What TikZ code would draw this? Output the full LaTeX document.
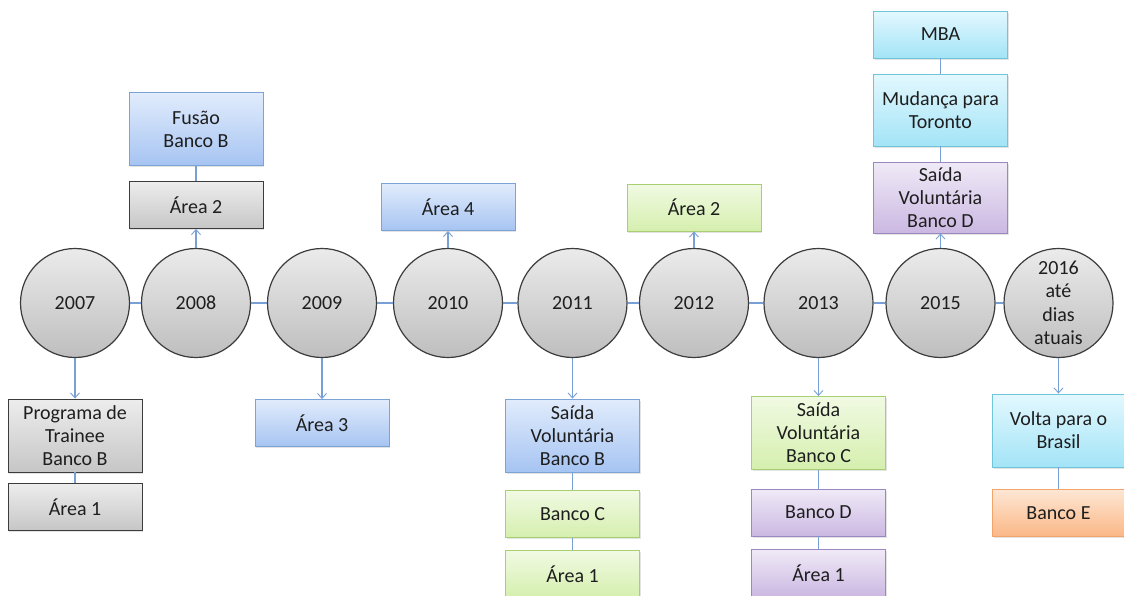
\documentclass[tikz,border=0pt]{standalone}
\usepackage{fontspec}
\setmainfont{Carlito}
\usetikzlibrary{arrows.meta,shadows}

\tikzset{
  link/.style={draw=linkblue, line width=1.1pt},
  tip/.style={link, -{Straight Barb[length=5pt,width=9pt,line width=0.9pt]}},
  year/.style={circle, minimum size=109pt, inner sep=0pt, draw=ringgray, line width=1.2pt,
    top color=circtop, bottom color=circbot, align=center, text=inkgray,
    font=\fontsize{20}{23.5}\selectfont},
  card/.style={rectangle, minimum width=134pt, inner sep=0pt, line width=0.9pt, align=center,
    text=inkgray, font=\fontsize{20}{23}\selectfont,
    drop shadow={opacity=0.22, shadow xshift=1.2pt, shadow yshift=-1.6pt}},
  short/.style={card, minimum height=47pt},
  tall/.style={card, minimum height=73pt},
  greycard/.style={draw=ringgray, top color=gtop, bottom color=gbot},
  bluecard/.style={draw=bline, top color=btop, bottom color=bbot},
  greencard/.style={draw=vline, top color=vtop, bottom color=vbot},
  purplecard/.style={draw=pline, top color=ptop, bottom color=pbot},
  cyancard/.style={draw=cline, top color=ctop, bottom color=cbot},
  orangecard/.style={draw=oline, top color=otop, bottom color=obot},
}

\definecolor{inkgray}{HTML}{1E1E1E}
\definecolor{linkblue}{HTML}{78A0D4}
\definecolor{ringgray}{HTML}{3C3C3C}
\definecolor{circtop}{HTML}{EBEBEB}
\definecolor{circbot}{HTML}{BEBEBE}
\definecolor{gtop}{HTML}{EDEDED}
\definecolor{gbot}{HTML}{C6C6C6}
\definecolor{bline}{HTML}{7DA3D6}
\definecolor{btop}{HTML}{E1ECFC}
\definecolor{bbot}{HTML}{A6C4F2}
\definecolor{vline}{HTML}{A8CF72}
\definecolor{vtop}{HTML}{F1FAE3}
\definecolor{vbot}{HTML}{D5EFAE}
\definecolor{pline}{HTML}{9C88C0}
\definecolor{ptop}{HTML}{F0EAF7}
\definecolor{pbot}{HTML}{CBB8E2}
\definecolor{cline}{HTML}{6FC6DB}
\definecolor{ctop}{HTML}{E3F8FE}
\definecolor{cbot}{HTML}{A3E4F7}
\definecolor{oline}{HTML}{F2A46A}
\definecolor{otop}{HTML}{FDE6D4}
\definecolor{obot}{HTML}{FBB886}

\begin{document}
\begin{tikzpicture}[x=1pt, y=-1pt]
\clip (0,0) rectangle (1124,595);
\fill[white] (0,0) rectangle (1124,595);

% timeline years
\node[year] (c07) at (75,303)  {2007};
\node[year] (c08) at (196,303) {2008};
\node[year] (c09) at (322,303) {2009};
\node[year] (c10) at (448,303) {2010};
\node[year] (c11) at (572.5,303) {2011};
\node[year] (c12) at (694,303) {2012};
\node[year] (c13) at (818.5,303) {2013};
\node[year] (c15) at (940.5,303) {2015};
\node[year] (c16) at (1058.5,303) {2016\\até\\dias\\atuais};

% events below / above each year
\node[tall, greycard]    (prog)  at (75,435.5)   {Programa de\\Trainee\\Banco B};
\node[short, greycard]   (a1g)   at (75,507)     {Área 1};
\node[tall, bluecard]    (fus)   at (196,129)    {Fusão\\Banco B};
\node[short, greycard]   (a2g)   at (196,205)    {Área 2};
\node[short, bluecard]   (a3)    at (322,423)    {Área 3};
\node[short, bluecard]   (a4)    at (448,207)    {Área 4};
\node[tall, bluecard]    (svb)   at (572.5,435.5) {Saída\\Voluntária\\Banco B};
\node[short, greencard]  (bc)    at (572.5,514)  {Banco C};
\node[short, greencard]  (a1v)   at (572.5,574)  {Área 1};
\node[short, greencard]  (a2v)   at (694,207.5)  {Área 2};
\node[tall, greencard]   (svc)   at (818.5,433)  {Saída\\Voluntária\\Banco C};
\node[short, purplecard] (bd)    at (818.5,512.5) {Banco D};
\node[short, purplecard] (a1p)   at (818.5,573)  {Área 1};
\node[tall, purplecard, minimum height=71pt] (svd) at (940.5,197.5) {Saída\\Voluntária\\Banco D};
\node[tall, cyancard, minimum height=72pt]   (mud) at (940.5,110)   {Mudança para\\Toronto};
\node[short, cyancard]   (mba)   at (940.5,34.5) {MBA};
\node[tall, cyancard, minimum width=132pt] (volta) at (1058.5,430.5) {Volta para o\\Brasil};
\node[short, orangecard, minimum width=132pt] (be) at (1058.5,513) {Banco E};

% timeline links
\draw[link] (c07) -- (c08);
\draw[link] (c08) -- (c09);
\draw[link] (c09) -- (c10);
\draw[link] (c10) -- (c11);
\draw[link] (c11) -- (c12);
\draw[link] (c12) -- (c13);
\draw[link] (c13) -- (c15);
\draw[link] (c15) -- (c16);

% year to event arrows
\draw[tip] (c07.south) -- (prog.north);
\draw[tip] (c08.north) -- (a2g.south);
\draw[tip] (c09.south) -- (a3.north);
\draw[tip] (c10.north) -- (a4.south);
\draw[tip] (c11.south) -- (svb.north);
\draw[tip] (c12.north) -- (a2v.south);
\draw[tip] (c13.south) -- (svc.north);
\draw[tip] (c15.north) -- (svd.south);
\draw[tip] (c16.south) -- (volta.north);

% stacked event links
\draw[link, line width=1.8pt] (prog.south) -- (a1g.north);
\draw[link] (a2g.north) -- (fus.south);
\draw[link] (svb.south) -- (bc.north);
\draw[link] (bc.south) -- (a1v.north);
\draw[link] (svc.south) -- (bd.north);
\draw[link] (bd.south) -- (a1p.north);
\draw[link] (svd.north) -- (mud.south);
\draw[link] (mud.north) -- (mba.south);
\draw[link] (volta.south) -- (be.north);
\end{tikzpicture}
\end{document}
